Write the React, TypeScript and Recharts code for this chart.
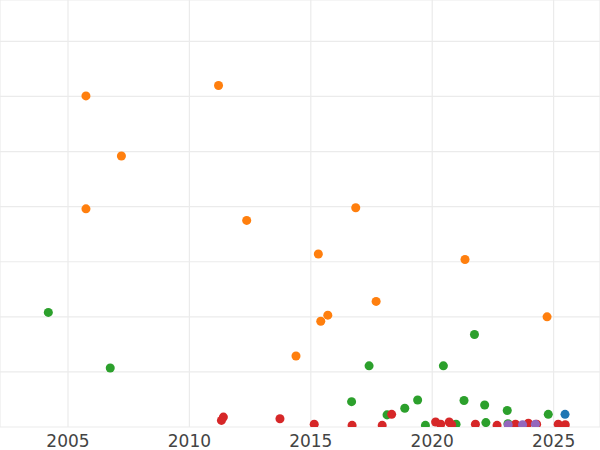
import { ScatterChart, Scatter, XAxis, YAxis, CartesianGrid } from 'recharts';

// years on the x axis, values on the (hidden) y axis
const blueYears = [2025.47];
const blueValues = [0.23];

const orangeYears = [2005.74, 2011.2, 2007.2, 2005.74, 2012.36, 2016.85, 2015.31, 2021.35, 2017.69, 2015.41, 2015.7, 2024.73, 2014.39];
const orangeValues = [6.01, 6.2, 4.92, 3.96, 3.75, 3.98, 3.14, 3.04, 2.28, 1.92, 2.03, 2.0, 1.29];

const greenYears = [2004.19, 2006.74, 2017.4, 2020.46, 2021.74, 2016.68, 2021.31, 2019.4, 2018.87, 2022.16, 2023.09, 2024.78, 2018.14, 2022.21, 2019.72, 2020.98, 2023.12];
const greenValues = [2.08, 1.07, 1.11, 1.11, 1.68, 0.46, 0.48, 0.49, 0.34, 0.4, 0.3, 0.23, 0.22, 0.08, 0.03, 0.05, 0.06];

const redYears = [2011.32, 2011.4, 2013.73, 2015.14, 2016.7, 2017.94, 2018.33, 2020.14, 2020.35, 2020.7, 2020.8, 2021.78, 2022.67, 2023.43, 2023.96, 2024.3, 2025.19, 2025.48];
const redValues = [0.12, 0.18, 0.15, 0.05, 0.03, 0.03, 0.23, 0.09, 0.05, 0.09, 0.04, 0.05, 0.03, 0.05, 0.07, 0.05, 0.05, 0.04];

const purpleYears = [2023.13, 2023.72, 2024.25];
const purpleValues = [0.04, 0.04, 0.05];

const yearTicks = [2005, 2010, 2015, 2020, 2025];
const valueTicks = [1, 2, 3, 4, 5, 6, 7];

const toPoints = (xs: number[], ys: number[]) => xs.map((x, i) => ({ x, y: ys[i] }));

const series = [
    { name: 'blue', color: '#1f77b4', data: toPoints(blueYears, blueValues) },
    { name: 'orange', color: '#ff7f0e', data: toPoints(orangeYears, orangeValues) },
    { name: 'green', color: '#2ca02c', data: toPoints(greenYears, greenValues) },
    { name: 'red', color: '#d62728', data: toPoints(redYears, redValues) },
    { name: 'purple', color: '#9467bd', data: toPoints(purpleYears, purpleValues) },
];

const App = () => {
    return (
        <div style={{ position: 'absolute', left: 0, top: 0, width: 600, height: 450, background: '#fff' }}>
            <ScatterChart width={600} height={450} margin={{ top: 0, right: 0, bottom: 0, left: 0 }}>
                <CartesianGrid stroke="#ebebeb" strokeWidth={1.2} />
                <XAxis
                    type="number"
                    dataKey="x"
                    domain={[2002.2, 2026.91]}
                    ticks={yearTicks}
                    allowDataOverflow
                    axisLine={false}
                    tickLine={false}
                    height={23}
                    tick={{ fill: '#444', fontSize: 17, fontFamily: 'DejaVu Sans' }}
                />
                <YAxis type="number" dataKey="y" domain={[0, 7.751]} ticks={valueTicks} allowDataOverflow hide />
                {series.map((s) => (
                    <Scatter key={s.name} name={s.name} data={s.data} fill={s.color} isAnimationActive={false} />
                ))}
            </ScatterChart>
        </div>
    );
};

export default App;
